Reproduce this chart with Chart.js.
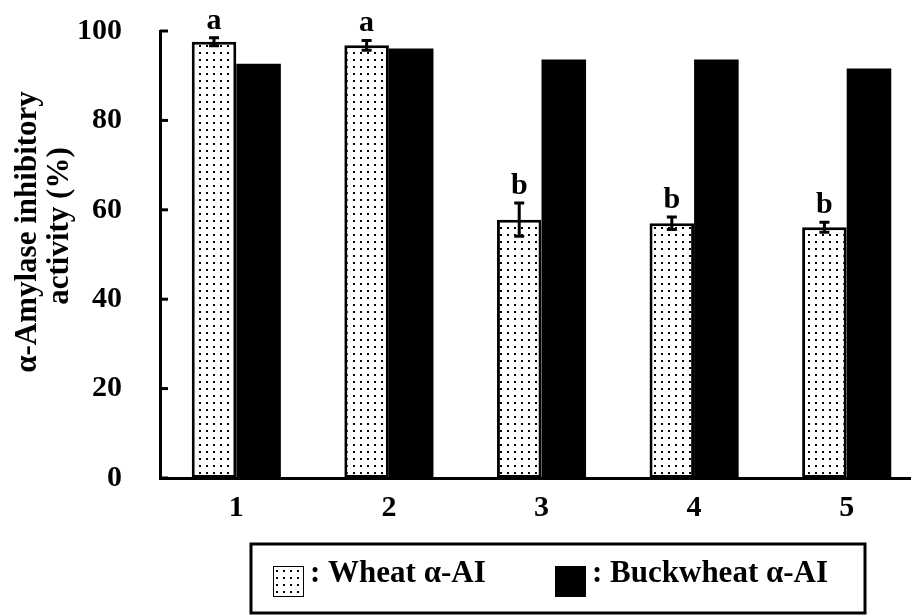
<!DOCTYPE html>
<html>
<head>
<meta charset="utf-8">
<script src="https://cdn.jsdelivr.net/npm/chart.js@4"></script>
<style>
  html, body { margin: 0; padding: 0; background: #fff; overflow: hidden; }
  #wrap { width: 925px; height: 615px; }
</style>
</head>
<body>
<div id="wrap"><canvas id="myChart" width="925" height="615"></canvas></div>
<script>
const categories = ["1", "2", "3", "4", "5"];
const wheat = [97.6, 96.8, 57.8, 57.0, 56.1];
const wheatErr = [0.9, 1.1, 3.7, 1.4, 1.1];
const buckwheat = [92.7, 96.1, 93.6, 93.6, 91.6];
const letters = ["a", "a", "b", "b", "b"];
const yTicks = [0, 20, 40, 60, 80, 100];
const yTitle = ["α-Amylase inhibitory", "activity (%)"];

const FONT = "'Liberation Serif', 'Times New Roman', serif";

// dotted fill for the wheat bars
function dotPattern() {
  const c = document.createElement("canvas");
  c.width = 7;
  c.height = 7;
  const g = c.getContext("2d");
  g.fillStyle = "#fff";
  g.fillRect(0, 0, 7, 7);
  g.fillStyle = "#000";
  g.fillRect(3, 3, 2, 2);
  return g.createPattern(c, "repeat");
}
const dots = dotPattern();

const extras = {
  id: "extras",
  afterDatasetsDraw(chart) {
    const { ctx } = chart;
    const y = chart.scales.y;
    const meta = chart.getDatasetMeta(0);
    ctx.save();
    ctx.strokeStyle = "#000";
    ctx.lineWidth = 3;
    meta.data.forEach((bar, i) => {
      const x = bar.x;
      const top = y.getPixelForValue(wheat[i] + wheatErr[i]);
      const bot = y.getPixelForValue(wheat[i] - wheatErr[i]);
      ctx.beginPath();
      ctx.moveTo(x, top);
      ctx.lineTo(x, bot);
      ctx.moveTo(x - 5, top);
      ctx.lineTo(x + 5, top);
      ctx.moveTo(x - 5, bot);
      ctx.lineTo(x + 5, bot);
      ctx.stroke();
      ctx.fillStyle = "#000";
      ctx.font = "bold 30px " + FONT;
      ctx.textAlign = "center";
      ctx.textBaseline = "alphabetic";
      ctx.fillText(letters[i], x, top - 9);
    });
    // inward y ticks
    y.ticks.forEach((t) => {
      const py = y.getPixelForValue(t.value);
      ctx.beginPath();
      ctx.moveTo(y.right, py);
      ctx.lineTo(y.right + 8, py);
      ctx.stroke();
    });
    ctx.restore();
  },
  afterDraw(chart) {
    const { ctx } = chart;
    ctx.save();
    // y axis title, two lines, rotated
    ctx.translate(0, 232);
    ctx.rotate(-Math.PI / 2);
    ctx.fillStyle = "#000";
    ctx.font = "bold 31px " + FONT;
    ctx.textAlign = "center";
    ctx.textBaseline = "middle";
    ctx.fillText(yTitle[0], 0, 28);
    ctx.fillText(yTitle[1], 6, 60);
    ctx.restore();

    ctx.save();
    ctx.strokeStyle = "#000";
    ctx.lineWidth = 3;
    ctx.strokeRect(251, 544, 614, 69);
    const items = [
      { x: 273, fill: dots, label: ": " + chart.data.datasets[0].label },
      { x: 555, fill: "#000", label: ": " + chart.data.datasets[1].label },
    ];
    ctx.font = "bold 31px " + FONT;
    ctx.textBaseline = "alphabetic";
    ctx.textAlign = "left";
    items.forEach((it) => {
      ctx.fillStyle = it.fill;
      ctx.fillRect(it.x, 566, 31, 31);
      ctx.lineWidth = 1;
      ctx.strokeRect(it.x + 0.5, 566.5, 30, 30);
      ctx.fillStyle = "#000";
      ctx.fillText(it.label, it.x + 37, 582);
    });
    ctx.restore();
  },
};

const ctx = document.getElementById("myChart").getContext("2d");
new Chart(ctx, {
  type: "bar",
  data: {
    labels: categories,
    datasets: [
      {
        label: "Wheat α-AI",
        data: wheat,
        backgroundColor: dots,
        borderColor: "#000",
        borderWidth: 3,
        borderSkipped: false,
      },
      {
        label: "Buckwheat α-AI",
        data: buckwheat,
        backgroundColor: "#000",
        borderWidth: 0,
      },
    ],
  },
  options: {
    responsive: false,
    animation: false,
    events: [],
    categoryPercentage: 0.584,
    barPercentage: 1.0,
    layout: {
      padding: { top: 31, right: 2, left: 0, bottom: 0 },
    },
    plugins: {
      legend: { display: false },
      tooltip: { enabled: false },
    },
    scales: {
      y: {
        min: 0,
        max: 100,
        afterBuildTicks: (s) => { s.ticks = yTicks.map((v) => ({ value: v })); },
        afterFit: (s) => {
          s.width = 160;
          s.paddingTop = 0;
          s.paddingBottom = 0;
        },
        grid: { display: false },
        border: { color: "#000", width: 3 },
        ticks: {
          color: "#000",
          font: { family: FONT, size: 30, weight: "bold" },
          padding: 30,
        },
      },
      x: {
        afterFit: (s) => {
          s.height = 137;
          s.paddingLeft = 0;
          s.paddingRight = 0;
        },
        grid: { display: false },
        border: { color: "#000", width: 3 },
        ticks: {
          color: "#000",
          font: { family: FONT, size: 30, weight: "bold" },
          padding: 4,
        },
      },
    },
  },
  plugins: [extras],
});
</script>
</body>
</html>
